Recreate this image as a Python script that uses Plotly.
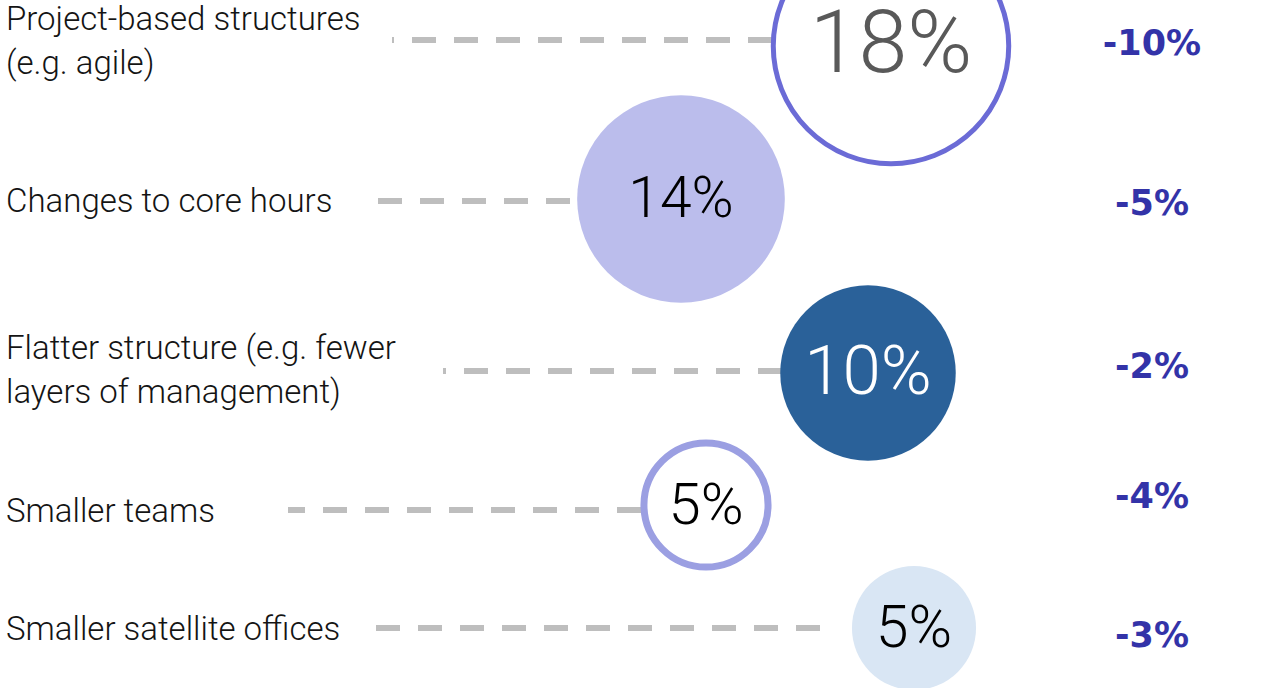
import plotly.graph_objects as go

# Survey items, share of respondents, and change since the previous wave
labels = [
    "Project-based structures<br>(e.g. agile)",
    "Changes to core hours",
    "Flatter structure (e.g. fewer<br>layers of management)",
    "Smaller teams",
    "Smaller satellite offices",
]
shares = [18, 14, 10, 5, 5]
changes = [-10, -5, -2, -4, -3]

# Layout on a pixel-like canvas (x: 0..1277, y: 0..688 top-down)
W, H = 1277, 688
row_y = [40, 201, 371, 510, 628]          # leader line / label row centre
label_line_y = [[18, 62], [200], [347, 391], [510], [628]]
bubble_x = [891, 681, 868, 706, 914]
bubble_y = [46, 199, 373, 505, 628]
value_dy = 4                              # optical centring of bubble text
leader_x0 = [392, 378, 443, 288, 376]     # left end of dashed leader
leader_x1 = [772, 570, 782, 641, 820]     # right end of dashed leader
change_x = 1152
change_y = [46, 206, 369, 499, 638]

# Bubble styling
fill_colors = ["#FFFFFF", "#BBBDEC", "#2A6199", "#FFFFFF", "#D9E6F4"]
ring_colors = ["#6B6BD6", "#BBBDEC", "#2A6199", "#9B9FE2", "#D9E6F4"]
ring_widths = [5, 0, 0, 7, 0]
value_colors = ["#595959", "#000000", "#FFFFFF", "#000000", "#000000"]
value_sizes = [88, 57, 69, 58, 59]
BUBBLE_K = 55.5  # diameter in px = BUBBLE_K * sqrt(share)

LABEL_FONT = "Roboto"
VALUE_FONT = "Roboto"
CHANGE_COLOR = "#3333A8"

fig = go.Figure()

# Dashed leader lines, drawn from the bubble side toward the label
for i in range(len(labels)):
    fig.add_trace(go.Scatter(
        x=[leader_x1[i], leader_x0[i]],
        y=[row_y[i], row_y[i]],
        mode="lines",
        line=dict(color="#BEBEBE", width=6, dash="24px,18px"),
        hoverinfo="skip",
        showlegend=False,
    ))

# Bubbles sized by share (area-proportional); plotly's area mode
# yields diameter = sqrt(2 * size / sizeref)
fig.add_trace(go.Scatter(
    x=bubble_x,
    y=bubble_y,
    mode="markers",
    marker=dict(
        size=shares,
        sizemode="area",
        sizeref=2.0 / BUBBLE_K ** 2,
        color=fill_colors,
        line=dict(color=ring_colors, width=ring_widths),
        opacity=1,
    ),
    cliponaxis=False,
    hoverinfo="skip",
    showlegend=False,
))

# Share values inside the bubbles
fig.add_trace(go.Scatter(
    x=bubble_x,
    y=[y + value_dy for y in bubble_y],
    mode="text",
    text=[f"{s}%" for s in shares],
    textposition="middle center",
    textfont=dict(family=VALUE_FONT, size=value_sizes, color=value_colors, weight=300),
    cliponaxis=False,
    hoverinfo="skip",
    showlegend=False,
))

# Change values on the right
fig.add_trace(go.Scatter(
    x=[change_x] * len(changes),
    y=change_y,
    mode="text",
    text=[f"{c}%" for c in changes],
    textposition="middle center",
    textfont=dict(family="DejaVu Sans", size=35, color=CHANGE_COLOR, weight=700),
    hoverinfo="skip",
    showlegend=False,
))

# Row labels, one annotation per text line
for i, lab in enumerate(labels):
    for line, ly in zip(lab.split("<br>"), label_line_y[i]):
        fig.add_annotation(
            x=4, y=ly, xref="x", yref="y",
            text=line, showarrow=False,
            xanchor="left", yanchor="middle",
            font=dict(family=LABEL_FONT, size=33, color="#141414", weight=300),
        )

fig.update_layout(
    width=W, height=H,
    margin=dict(l=0, r=0, t=0, b=0),
    paper_bgcolor="white",
    plot_bgcolor="white",
    xaxis=dict(range=[0, W], visible=False, fixedrange=True),
    yaxis=dict(range=[H, 0], visible=False, fixedrange=True),
    showlegend=False,
)

fig.write_html("out.html")
